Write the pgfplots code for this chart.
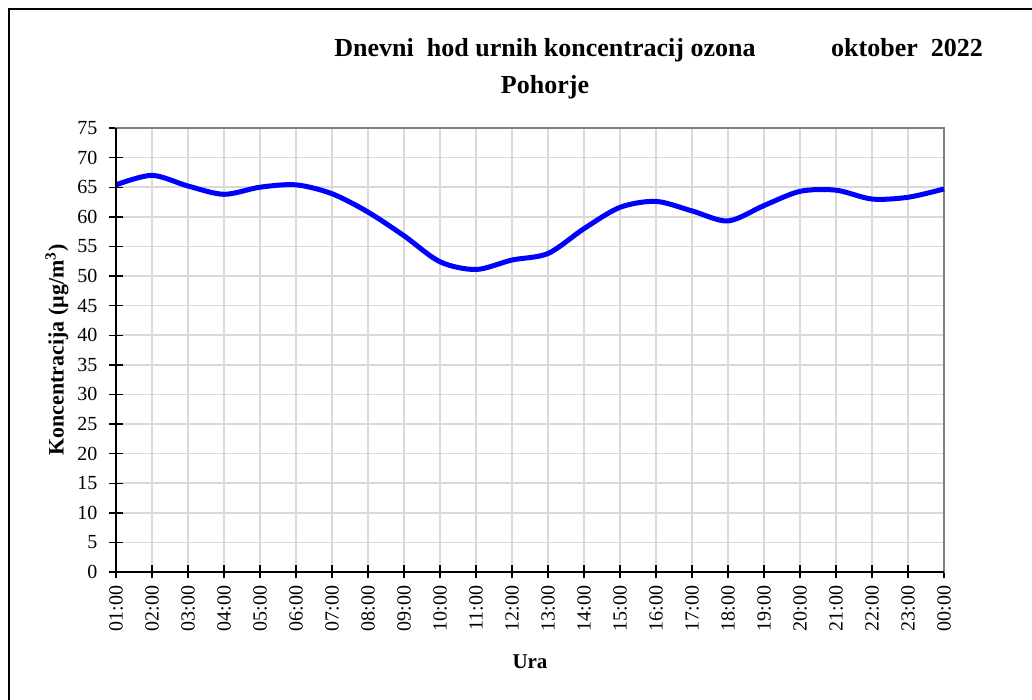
\documentclass[border=0pt]{standalone}
\usepackage{fontspec}
\setmainfont{Liberation Serif}
\usepackage{pgfplots}
\pgfplotsset{compat=1.18}

\begin{document}
\begin{tikzpicture}
% picture box, 1px = 0.5pt, axis corner at the origin
\path[use as bounding box] (-58pt,-64pt) rectangle (458pt,286pt);
\draw[line width=0.8pt] (-53.5pt,-70pt) -- (-53.5pt,281.5pt) -- (470pt,281.5pt);

\node[font=\bfseries\fontsize{13}{15}\selectfont] at (214.5pt,261pt) {Dnevni\ \ hod urnih koncentracij ozona};
\node[font=\bfseries\fontsize{13}{15}\selectfont] at (214.5pt,242.5pt) {Pohorje};
\node[font=\bfseries\fontsize{13}{15}\selectfont] at (395.5pt,262pt) {oktober\ \ 2022};

\begin{axis}[
    scale only axis,
    width=414pt, height=222pt,
    xmin=0, xmax=23, ymin=0, ymax=75,
    xtick={0,...,23},
    xticklabels={01:00,02:00,03:00,04:00,05:00,06:00,07:00,08:00,09:00,10:00,11:00,12:00,
                 13:00,14:00,15:00,16:00,17:00,18:00,19:00,20:00,21:00,22:00,23:00,00:00},
    ytick={0,5,...,75},
    /pgf/number format/assume math mode=true,
    tick label style={font=\fontsize{10}{12}\selectfont},
    xticklabel style={rotate=90, anchor=east},
    yticklabel style={xshift=-2.5pt},
    grid=major,
    major grid style={draw=black!15, line width=0.75pt},
    axis line style={draw=black!50, line width=1pt},
    tick align=center,
    major tick length=6.5pt,
    tick style={black, line width=0.7pt},
    xtick pos=bottom, ytick pos=left,
    xlabel={Ura},
    ylabel={Koncentracija (µg/m\textsuperscript{3})},
    label style={font=\bfseries\fontsize{10.5}{12}\selectfont},
    ylabel style={font=\bfseries\fontsize{11}{13}\selectfont},
    xlabel style={at={(axis description cs:0.5,-0.2027)}, anchor=center},
    ylabel style={at={(axis description cs:-0.0713,0.5)}, anchor=center, rotate=0},
    clip=false,
]
\addplot[blue, line width=2.5pt, smooth] coordinates {
(0,65.4) (1,67.0) (2,65.2) (3,63.8) (4,65.0) (5,65.4) (6,63.9) (7,60.8)
(8,56.8) (9,52.4) (10,51.1) (11,52.7) (12,53.8) (13,58.0) (14,61.6) (15,62.6)
(16,61.0) (17,59.3) (18,61.9) (19,64.3) (20,64.5) (21,63.0) (22,63.3) (23,64.7)
};
\draw[black, line width=1pt] (rel axis cs:0,1) -- (rel axis cs:0,0) -- (rel axis cs:1,0);
\end{axis}
\end{tikzpicture}
\end{document}
